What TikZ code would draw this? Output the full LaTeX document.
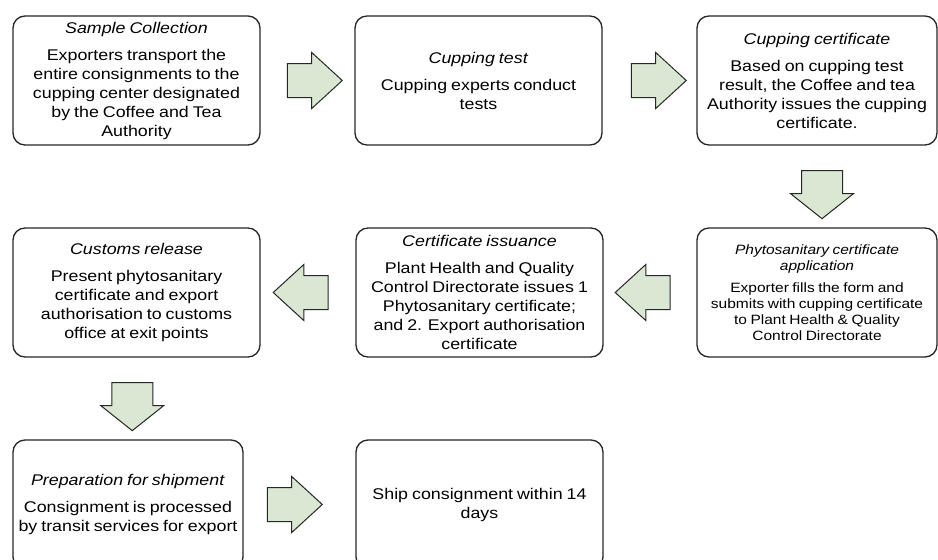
\documentclass[tikz,border=0pt]{standalone}
\usepackage{fontspec}
\setmainfont{Liberation Sans}[FakeStretch=1.15,WordSpace=0.8]
\usetikzlibrary{shapes.arrows,calc}
\definecolor{arrowfill}{RGB}{218,232,211}
\definecolor{boxline}{RGB}{38,38,38}
\tikzset{
  stage/.style={draw=boxline,line width=1.3pt,rounded corners=12pt,align=center,
    minimum height=129pt,inner sep=0pt,font=\fontsize{15.5}{19}\selectfont},
  blockarrow/.style={single arrow,draw=boxline,fill=arrowfill,line width=1pt,
    inner xsep=0pt,inner ysep=16.5pt,single arrow head extend=11pt,
    minimum width=55pt,minimum height=55pt,single arrow tip angle=85},
  downarrow/.style={blockarrow,rotate=-90,inner ysep=20pt,
    minimum width=63pt,minimum height=48pt,single arrow tip angle=103}
}
\begin{document}
\begin{tikzpicture}[x=1pt,y=-1pt]
\path[use as bounding box,clip] (0,0) rectangle (938,560);
\node[stage,minimum width=247pt] (sample) at (136.5,80.5)
  {\textit{Sample Collection}\\[8pt]
   Exporters transport the\\ entire consignments to the\\
   cupping center designated\\ by the Coffee and Tea\\ Authority};
\node[stage,minimum width=247pt] (cuptest) at (478.5,80.5)
  {\textit{Cupping test}\\[8pt] Cupping experts conduct\\ tests};
\node[stage,minimum width=240pt] (cupcert) at (817,80.5)
  {\textit{Cupping certificate}\\[8pt]
   Based on cupping test\\ result, the Coffee and tea\\
   Authority issues the cupping\\ certificate.};
\node[stage,minimum width=240pt,font=\fontsize{13.5}{16}\selectfont] (phyto) at (817,292.5)
  {\textit{Phytosanitary certificate}\\ \textit{application}\\[6pt]
   Exporter fills the form and\\ submits with cupping certificate\\
   to Plant Health \& Quality\\ Control Directorate};
\node[stage,minimum width=247pt] (issue) at (479.5,292.5)
  {\textit{Certificate issuance}\\[8pt]
   Plant Health and Quality\\ Control Directorate issues 1\\
   Phytosanitary certificate;\\ and 2. Export authorisation\\ certificate};
\node[stage,minimum width=247pt] (customs) at (136.5,292.5)
  {\textit{Customs release}\\[8pt]
   Present phytosanitary\\ certificate and export\\
   authorisation to customs\\ office at exit points};
\node[stage,minimum width=230pt] (prep) at (128,504.5)
  {\textit{Preparation for shipment}\\[8pt]
   Consignment is processed\\ by transit services for export};
\node[stage,minimum width=247pt] (ship) at (479.5,504.5)
  {Ship consignment within 14\\ days};
\node[blockarrow] (a1) at ($(sample.east)!.5!(cuptest.west)+(-2,0)$) {};
\node[blockarrow] (a2) at ($(cuptest.east)!.5!(cupcert.west)$) {};
\node[downarrow] (a3) at ($(cupcert.south)!.5!(phyto.north)+(5,0)$) {};
\node[blockarrow,rotate=180] (a4) at ($(phyto.west)!.5!(issue.east)+(2,0)$) {};
\node[blockarrow,rotate=180] (a5) at ($(issue.west)!.5!(customs.east)+(2,0)$) {};
\node[downarrow] (a6) at ($(customs.south)!.5!(prep.north)$) {};
\node[blockarrow] (a7) at ($(prep.east)!.5!(ship.west)+(-14,0)$) {};
\end{tikzpicture}
\end{document}
